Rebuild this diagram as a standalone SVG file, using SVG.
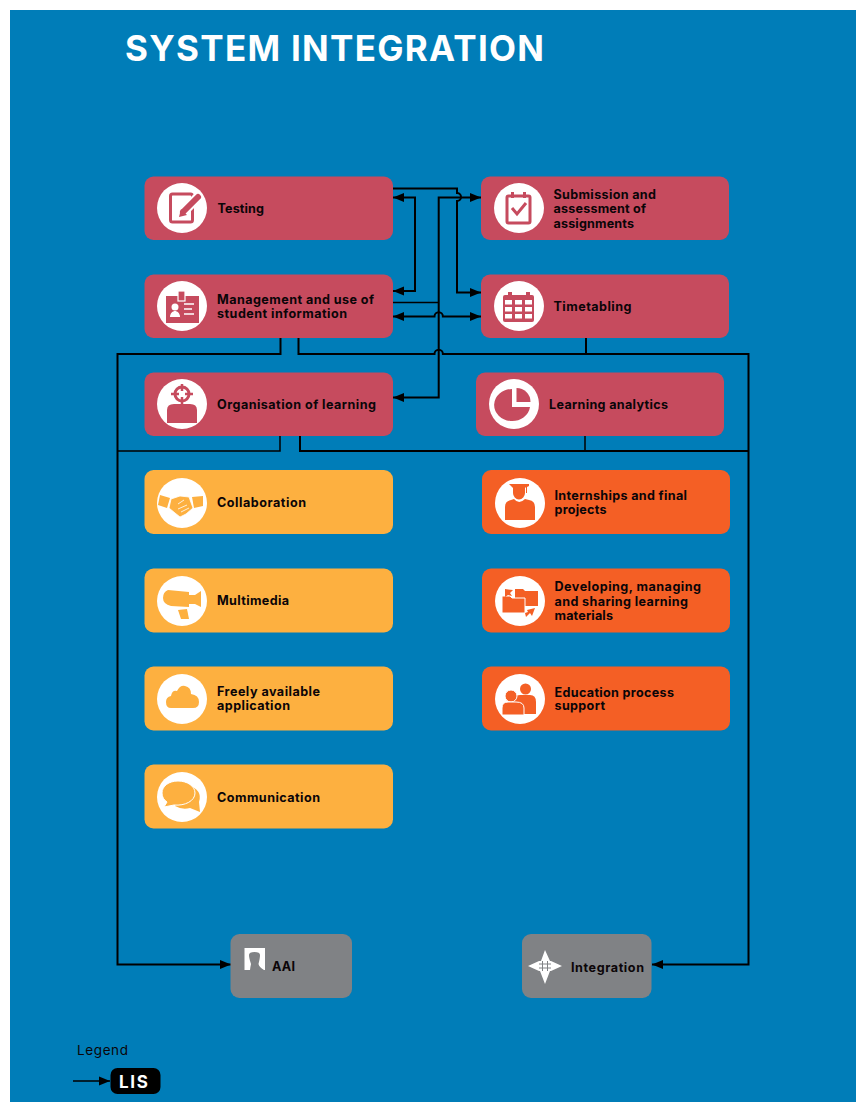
<svg xmlns="http://www.w3.org/2000/svg" width="856" height="1102" viewBox="0 0 856 1102">
<style>
text{font-family:Inter,"Liberation Sans",sans-serif;font-weight:700;font-size:12.6px;fill:#0b0508}
.red{fill:#c64b5e}.yel{fill:#fdb040}.org{fill:#f45f25}.gry{fill:#808285}
.c{fill:#fff}
.w{fill:#fff}
.ln{fill:none;stroke:#000;stroke-width:2}
.thin{stroke-width:1.500}
.a2{marker-start:url(#arr);marker-end:url(#arr)}
.a1{marker-end:url(#arr)}
</style>
<defs>
<marker id="arr" markerUnits="userSpaceOnUse" markerWidth="12" markerHeight="11" refX="11" refY="5.500" orient="auto-start-reverse"><path d="M0,1 L11,5.500 L0,10 Z" fill="#000"/></marker>
</defs>
<rect x="0" y="0" width="856" height="1102" fill="#fff"/>
<rect x="10" y="10" width="846" height="1092" fill="#007db8"/>
<text x="125" y="61" style="font-size:35px;fill:#fff;font-weight:700" textLength="419" lengthAdjust="spacing">SYSTEM INTEGRATION</text>

<g id="connectors">
<path class="ln" d="M393,188.500 H457 V193 a4,4 0 0 1 0,8 V292.500 H481" style="marker-end:url(#arr)"/>
<path class="ln a2" d="M393,197.500 H415 V291 H393"/>
<path class="ln a2" d="M393,397.500 H438.700 V197.500 H481"/>
<path class="ln thin" d="M393,302.500 H438.700"/>
<path class="ln a2" d="M393,316.500 H434.500 a4.200,4.200 0 0 1 8.400,0 H481"/>
<path class="ln a1" d="M298.500,338 V354 H434.500 a4.200,4.200 0 0 1 8.400,0 H748.500 V964.500 H652"/>
<path class="ln a1" d="M280.500,338 V354 H117.500 V964.500 H231"/>
<path class="ln" d="M586,338 V354"/>
<path class="ln thin" d="M280,436 V451 H117.500"/>
<path class="ln" d="M300,436 V451 H748.500"/>
<path class="ln thin" d="M585,436 V451"/>
<path class="ln thin a1" d="M73,1081 H110"/>
</g>

<g id="testing">
<rect class="red" x="144.500" y="176.500" width="248.500" height="63.500" rx="9"/>
<circle class="c" cx="182" cy="208" r="25"/>
<rect x="170.500" y="194" width="22" height="28" rx="2" fill="none" stroke="#c64b5e" stroke-width="3"/>
<path d="M198,197 L180,215" stroke="#fff" stroke-width="10" fill="none"/>
<path d="M198,197 L183,212" stroke="#c64b5e" stroke-width="6" stroke-linecap="round" fill="none"/>
<path d="M179,217 L181,209 L187,215 Z" class="red"/>
<text x="217.500" y="213" textLength="46.500">Testing</text>
</g>

<g id="student-info">
<rect class="red" x="144.500" y="274.500" width="248.500" height="63.500" rx="9"/>
<circle class="c" cx="182" cy="306" r="25"/>
<rect class="red" x="166" y="296" width="33" height="27"/>
<rect class="red" x="178" y="291" width="7" height="10" stroke="#fff" stroke-width="1.200"/>
<circle class="c" cx="175" cy="307" r="3.500"/>
<path class="w" d="M170,317 c0,-4 3,-6 5,-6 s5,2 5,6 Z"/>
<path d="M184,304 H194 M184,309 H192 M184,314 H194" stroke="#fff" stroke-width="1.400"/>
<text x="217" y="304" textLength="157">Management and use of</text>
<text x="217" y="318" textLength="130">student information</text>
</g>

<g id="organisation">
<rect class="red" x="144.500" y="372.500" width="248.500" height="63.500" rx="9"/>
<circle class="c" cx="182" cy="404" r="25"/>
<path class="red" d="M167,423 V410 q0,-6 7,-6 h16 q7,0 7,6 V423 Z"/>
<circle cx="182" cy="394" r="9" fill="#fff"/>
<circle cx="182" cy="394" r="7" fill="none" stroke="#c64b5e" stroke-width="3"/>
<path d="M182,384 V391 M182,397 V404 M171,394 H179 M185,394 H193" stroke="#c64b5e" stroke-width="2.500"/>
<text x="217" y="409" textLength="159">Organisation of learning</text>
</g>

<g id="submission">
<rect class="red" x="481" y="176.500" width="248" height="63.500" rx="9"/>
<circle class="c" cx="519" cy="208" r="25"/>
<rect x="507" y="196" width="23" height="27" rx="1.500" fill="none" stroke="#c64b5e" stroke-width="3"/>
<rect class="red" x="511" y="192" width="3" height="6"/><rect class="red" x="523" y="192" width="3" height="6"/>
<path d="M512,208 L517,214 L526,203" fill="none" stroke="#c64b5e" stroke-width="3"/>
<text x="553.500" y="199" textLength="102.500">Submission and</text>
<text x="553.500" y="213" textLength="92.500">assessment of</text>
<text x="553.500" y="228" textLength="80.500">assignments</text>
</g>

<g id="timetabling">
<rect class="red" x="481" y="274.500" width="248" height="63.500" rx="9"/>
<circle class="c" cx="519" cy="306" r="25"/>
<rect class="red" x="503" y="295" width="31" height="27" rx="2"/>
<rect class="red" x="508" y="292" width="4" height="6"/><rect class="red" x="526" y="292" width="4" height="6"/>
<path class="w" d="M505,300h7v4.500h-7zM515,300h7v4.500h-7zM525,300h7v4.500h-7zM505,307h7v4.500h-7zM515,307h7v4.500h-7zM525,307h7v4.500h-7zM505,314h7v4.500h-7zM515,314h7v4.500h-7zM525,314h7v4.500h-7z"/>
<text x="553.500" y="311" textLength="78">Timetabling</text>
</g>

<g id="analytics">
<rect class="red" x="476" y="372.500" width="248" height="63.500" rx="9"/>
<circle class="c" cx="514" cy="404" r="25"/>
<path class="red" d="M512,390 V408 H530 A18,16 0 1 1 512,390 Z" transform="translate(0,-1)"/>
<path class="red" d="M516.500,388 A14,14 0 0 1 530.500,402 H516.500 Z"/>
<text x="549" y="409" textLength="119">Learning analytics</text>
</g>

<g id="collaboration">
<rect class="yel" x="144.500" y="470" width="248.500" height="64" rx="9"/>
<circle class="c" cx="182" cy="503" r="25"/>
<path class="yel" d="M160,495 L170,498 L167,508 L158,505 Z"/>
<path class="yel" d="M192,497 L203,496 L203,506 L194,508 Z"/>
<path class="yel" stroke="#fff" stroke-width="0.800" d="M171,499 L180,496 L189,497 L193,508 L186,514 L180,517 L175,513 L169,508 Z"/>
<path d="M178,504 L184,500 M178,509 L187,505 M181,512 L189,508" stroke="#fff" stroke-width="0.800" fill="none"/>
<text x="217" y="507" textLength="89">Collaboration</text>
</g>

<g id="multimedia">
<rect class="yel" x="144.500" y="568.500" width="248.500" height="64" rx="9"/>
<circle class="c" cx="182" cy="601" r="25"/>
<path class="yel" d="M168,590 L189,592 V595 H195 L201,591 V607 L195,604 H189 V607 L171,606 Q163,604 163,598 Q163,592 168,590 Z"/>
<path class="yel" d="M178,610 L187,609 L189,619 L181,619 Z"/>
<text x="217" y="605" textLength="72">Multimedia</text>
</g>

<g id="freely-available">
<rect class="yel" x="144.500" y="666.500" width="248.500" height="64" rx="9"/>
<circle class="c" cx="182" cy="699" r="25"/>
<path class="yel" d="M171,708 Q166,708 166,702 Q166,697 171,696 Q172,690 177,691 Q180,685 185,686 Q191,687 191,694 Q199,695 199,702 Q199,708 193,708 Z"/>
<text x="217" y="696" textLength="103">Freely available</text>
<text x="217" y="710" textLength="73">application</text>
</g>

<g id="communication">
<rect class="yel" x="144.500" y="764.500" width="248.500" height="64" rx="9"/>
<circle class="c" cx="182" cy="797" r="25"/>
<path class="yel" d="M188,785 Q203,790 199,802 L200,812 L190,808 Q182,810 175,806 Z"/>
<path class="yel" stroke="#fff" stroke-width="1" d="M178,781 C169,781 162,786 162,793 C162,797 164,800 167,802 L164,807 L174,805 C185,806 195,801 195,793 C195,786 187,781 178,781 Z"/>
<text x="217" y="802" textLength="103">Communication</text>
</g>

<g id="internships">
<rect class="org" x="482" y="470" width="248" height="64" rx="9"/>
<circle class="c" cx="520" cy="503" r="25"/>
<path class="org" d="M509,484 H529 V486 L527,487 V493 H526 V487 L525,488 V493 A6,6.500 0 0 1 513,493 V488 Z"/>
<path class="org" d="M505,520 V507 Q505,501 511,500 L514,499 Q519,505 525,499 L529,500 Q535,501 535,507 V520 Z"/>
<text x="554.500" y="500" textLength="132.500">Internships and final</text>
<text x="554.500" y="514" textLength="52">projects</text>
</g>

<g id="learning-materials">
<rect class="org" x="482" y="568.500" width="248" height="64" rx="9"/>
<circle class="c" cx="520" cy="601" r="25"/>
<path class="org" d="M515,589 H523 L525,591 H538 V606 H515 Z"/>
<path class="org" stroke="#fff" stroke-width="1" d="M502,596 H510 L512,598 H525 V613 H502 Z"/>
<path class="org" d="M505,589 L513,590 L510,593 L512,596 L508,595 L505,597 Z"/>
<path class="org" d="M535,608 L532,616 L530,613 L526,617 L525,613 L528,612 L527,610 Z"/>
<text x="554.500" y="591" textLength="146.500">Developing, managing</text>
<text x="554.500" y="605.500" textLength="133.500">and sharing learning</text>
<text x="554.500" y="619.500" textLength="58.500">materials</text>
</g>

<g id="education-support">
<rect class="org" x="482" y="666.500" width="248" height="64" rx="9"/>
<circle class="c" cx="520" cy="699" r="25"/>
<circle class="org" cx="525.500" cy="689" r="5.500"/>
<path class="org" d="M513,714 V702 Q513,695 520,695 H530 Q536,695 536,702 V714 Z"/>
<circle class="org" cx="511" cy="696" r="6" stroke="#fff" stroke-width="1"/>
<path class="org" stroke="#fff" stroke-width="1" d="M502,715 V708 Q502,702 508,702 H516 Q524,702 524,708 V715 Z"/>
<text x="554.500" y="696.500" textLength="119.500">Education process</text>
<text x="554.500" y="710" textLength="50.500">support</text>
</g>

<g id="aai">
<rect class="gry" x="230.500" y="934" width="121.500" height="64" rx="9"/>
<path class="w" fill-rule="evenodd" d="M244.500,948 H265 V970 H244.500 Z M250,970 Q250.500,966 251,964 Q249,958 249,955 Q249,952 254.500,952 Q260,952 260,955 Q260,958 258.500,964 Q259,967 264,970 Z"/>
<text x="272" y="971" textLength="23">AAI</text>
</g>

<g id="integration">
<rect class="gry" x="522" y="934" width="129.500" height="64" rx="9"/>
<path class="w" d="M545,950 L550,961 H541 Z M545,984 L540,971 H550 Z M528,966 L539,961 V971 Z M562,966 L551,961 V971 Z"/>
<rect class="w" x="539" y="961" width="12" height="10"/>
<path d="M542.500,961 V971 M547.500,961 V971 M539,964 H551 M539,968 H551" stroke="#808285" stroke-width="1" fill="none"/>
<text x="571" y="971.500" textLength="73">Integration</text>
</g>

<g id="legend">
<text x="77" y="1055" textLength="51" style="font-weight:400;font-size:13.500px">Legend</text>
<rect x="110.500" y="1068" width="50" height="26" rx="7" fill="#000"/>
<text x="119" y="1088" textLength="29" style="fill:#fff;font-size:17px">LIS</text>
</g>
</svg>
